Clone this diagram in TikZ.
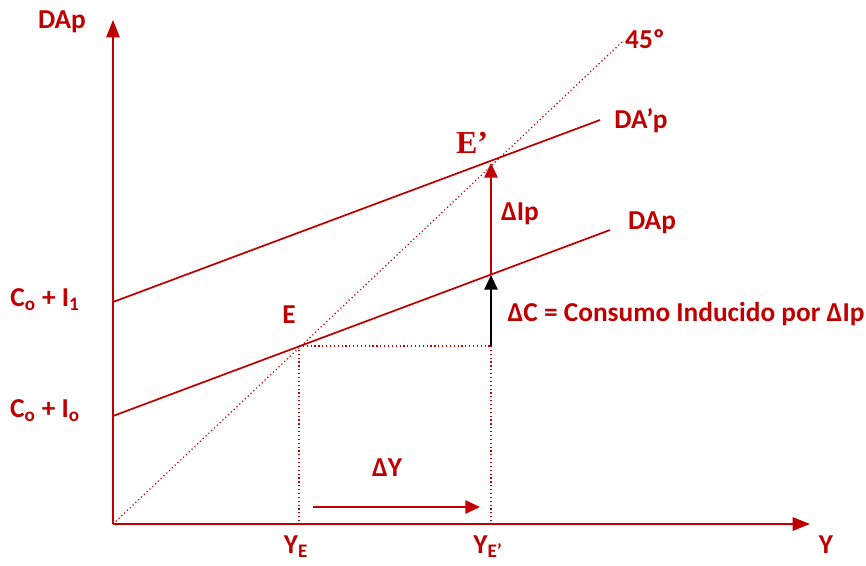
\documentclass[tikz,border=0pt]{standalone}
\usepackage{fontspec}
\setmainfont{Carlito}
\newfontfamily\serifbf{Liberation Serif}
\usetikzlibrary{arrows.meta}
\definecolor{dred}{HTML}{C00000}

\begin{document}
\begin{tikzpicture}[x=0.75pt, y=-0.75pt,
  axis/.style={dred, line width=1.4pt, -{Triangle[length=13pt, width=10pt]}},
  demand/.style={dred, line width=1.3pt},
  guide/.style={dred, dotted, line width=0.9pt},
  delta/.style={line width=1.3pt, -{Triangle[length=11pt, width=10pt]}},
  lbl/.style={text=dred, font=\fontsize{20.5}{24}\selectfont\bfseries, inner sep=0pt}
]
\useasboundingbox (0,0) rectangle (866,565);
% Axes
\coordinate (O)  at (113, 524);
\coordinate (YT) at (113, 20);
\coordinate (XT) at (810, 524);
\draw[axis] (O) -- (YT);
\draw[axis] (O) -- (XT);
% 45 degree line and demand lines
\coordinate (F45) at (622, 42);
\coordinate (D0a) at (113, 416);
\coordinate (D0b) at (610, 230);
\coordinate (D1a) at (113, 302);
\coordinate (D1b) at (600, 120);
\draw[guide] (O) -- (F45);
\draw[demand] (D0a) -- (D0b);
\draw[demand] (D1a) -- (D1b);
% Equilibria and guides
\coordinate (E)  at (299, 346);
\coordinate (Ep) at (491, 163);
\coordinate (Q)  at (491, 346);
\coordinate (R)  at (491, 275);
\draw[guide] (E) -- (E |- O);
\draw[guide] (E) -- (Q);
\draw[guide] (Q) -- (Q |- O);
\draw[delta, black] (Q) -- (R);
\draw[delta, dred] (R) -- (Ep);
% Delta Y arrow
\coordinate (DYa) at (313, 507);
\coordinate (DYb) at (480, 507);
\draw[delta, dred] (DYa) -- (DYb);
% Labels
\node[lbl] (lDAp)  at (62, 22)  {DAp};
\node[lbl] (l45)   at (645, 39) {45º};
\node[lbl] (lDA1)  at (641, 121) {DA’p};
\node[lbl] (lDA0)  at (652, 223) {DAp};
\node[lbl, font=\fontsize{24}{28}\selectfont\serifbf\bfseries] (lEp) at (472, 143) {E’};
\node[lbl] (lDI)   at (520, 214) {ΔIp};
\node[lbl] (lE)    at (289, 315) {E};
\node[lbl] (lDC)   at (686, 314) {ΔC = Consumo Inducido por ΔIp};
\node[lbl] (lC1)   at (45, 300) {C\textsubscript{o} + I\textsubscript{1}};
\node[lbl] (lC0)   at (45, 411) {C\textsubscript{o} + I\textsubscript{o}};
\node[lbl] (lDY)   at (387, 468) {ΔY};
\node[lbl, anchor=base] (lYE)  at (296, 553) {Y\textsubscript{E}};
\node[lbl, anchor=base] (lYEp) at (488, 553) {Y\textsubscript{E’}};
\node[lbl] (lY)    at (826, 545) {Y};
\end{tikzpicture}
\end{document}
